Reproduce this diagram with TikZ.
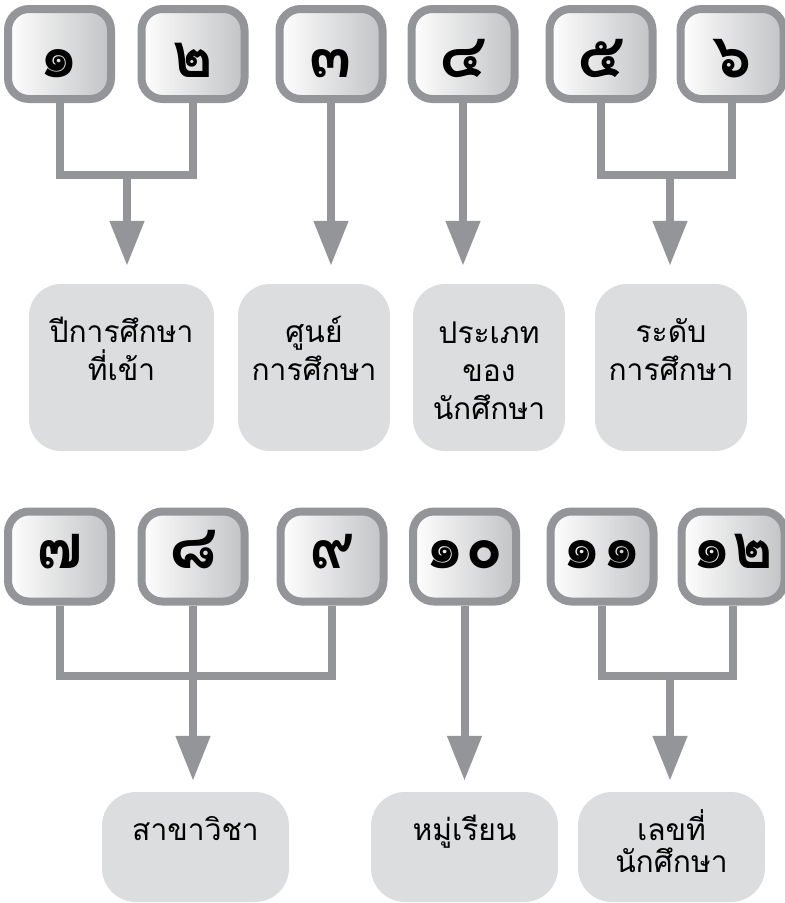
\documentclass[tikz,border=0pt]{standalone}
\usepackage{fontspec}
\newfontfamily\thaifont[Script=Thai]{Loma}
\usetikzlibrary{arrows.meta,calc}
\definecolor{linegray}{HTML}{939598}
\definecolor{boxgray}{HTML}{DCDDDE}
\definecolor{shadegray}{HTML}{C2C3C5}
\tikzset{
 numbox/.style={draw=linegray, line width=8pt, rounded corners=21pt, minimum width=103pt, minimum height=90pt, inner sep=0pt, left color=white, right color=shadegray},
 digit/.style={anchor=base, inner sep=0pt, font=\thaifont\bfseries\fontsize{62}{62}\selectfont},
 lblbox/.style={fill=boxgray, rounded corners=32pt, inner sep=0pt, minimum height=167pt},
 lblboxb/.style={fill=boxgray, rounded corners=34pt, inner sep=0pt, minimum height=110pt, minimum width=187pt},
 lbltext/.style={anchor=base, align=center, inner sep=0pt, font=\thaifont\fontsize{30}{38}\selectfont},
 lbltextb/.style={anchor=base, align=center, inner sep=0pt, font=\thaifont\fontsize{30}{32}\selectfont},
 conn/.style={draw=linegray, line width=8pt},
 arr/.style={conn, -{Triangle[width=33pt,length=45pt]}},
}
\begin{document}
\begin{tikzpicture}[x=1pt,y=-1pt]
\useasboundingbox (0,0) rectangle (785,903);
% label boxes
\node[lblbox, minimum width=185pt] (l1) at (121.5,367.5) {};
\node[lblbox, minimum width=152pt] (l2) at (314,367.5) {};
\node[lblbox, minimum width=152pt] (l3) at (489,367.5) {};
\node[lblbox, minimum width=152pt] (l4) at (671,367.5) {};
\node[lblboxb] (l5) at (195.5,847) {};
\node[lblboxb] (l6) at (464.5,847) {};
\node[lblboxb] (l7) at (671.5,847) {};
% (anchor=base is the baseline of the last line)
\node[lbltext] (t1) at (121.5,380) {ปีการศึกษา\\ที่เข้า};
\node[lbltext] (t2) at (314,380) {ศูนย์\\การศึกษา};
\node[lbltext] (t3) at (489,419) {ประเภท\\ของ\\นักศึกษา};
\node[lbltext] (t4) at (671,380) {ระดับ\\การศึกษา};
\node[lbltextb] (t5) at (195.5,840) {สาขาวิชา};
\node[lbltextb] (t6) at (464.5,840) {หมู่เรียน};
\node[lbltextb] (t7) at (671.5,872) {เลขที่\\นักศึกษา};
% number boxes
\node[numbox] (n1) at (59.5,54) {};
\node[numbox] (n2) at (193,54) {};
\node[numbox] (n3) at (331,54) {};
\node[numbox] (n4) at (463,54) {};
\node[numbox] (n5) at (601,54) {};
\node[numbox] (n6) at (732,54) {};
\node[numbox] (n7) at (59.5,556.5) {};
\node[numbox] (n8) at (193,556.5) {};
\node[numbox] (n9) at (332,556.5) {};
\node[numbox] (n10) at (464.5,556.5) {};
\node[numbox] (n11) at (602,556.5) {};
\node[numbox] (n12) at (733,556.5) {};
\node[digit] (d1) at (59.5,77) {๑};
\node[digit] (d2) at (193,77) {๒};
\node[digit] (d3) at (331,77) {๓};
\node[digit] (d4) at (463,77) {๔};
\node[digit] (d5) at (601,77) {๕};
\node[digit] (d6) at (732,77) {๖};
\node[digit] (d7) at (59.5,568) {๗};
\node[digit] (d8) at (193,568) {๘};
\node[digit] (d9) at (332,568) {๙};
\node[digit] (d10) at (464.5,568) {๑๐};
\node[digit] (d11) at (602,568) {๑๑};
\node[digit] (d12) at (733,568) {๑๒};
% connectors
\coordinate (b1) at (127,175);
\coordinate (b2) at (670,175);
\coordinate (b3) at (193,676);
\coordinate (b4) at (670,676);
\draw[conn] (n1.south) |- (b1) -| (n2.south);
\draw[conn] (n5.south) |- (b2) -| (n6.south);
\draw[conn] (n7.south) |- (b3) -| (n9.south);
\draw[conn] (n8.south) -- (b3);
\draw[conn] (n11.south) |- (b4) -| (n12.south);
\draw[arr, shorten >=18pt] (b1) -- (b1 |- l1.north);
\draw[arr, shorten >=18pt] (n3.south) -- (n3.south |- l2.north);
\draw[arr, shorten >=18pt] (n4.south) -- (n4.south |- l3.north);
\draw[arr, shorten >=18pt] (b2) -- (b2 |- l4.north);
\draw[arr, shorten >=11pt] (b3) -- (b3 |- l5.north);
\draw[arr, shorten >=11pt] (n10.south) -- (n10.south |- l6.north);
\draw[arr, shorten >=11pt] (b4) -- (b4 |- l7.north);
\end{tikzpicture}
\end{document}
